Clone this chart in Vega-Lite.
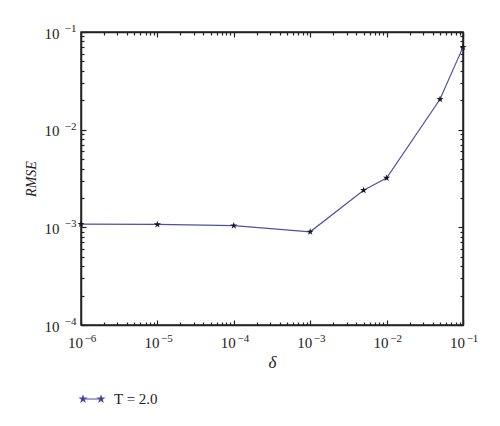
{
  "$schema": "https://vega.github.io/schema/vega-lite/v6.json",
  "width": 382,
  "height": 293,
  "autosize": {"type": "none"},
  "padding": {"left": 81, "top": 32, "right": 37, "bottom": 101},
  "background": "white",
  "data": {
    "values": [
      {"delta": 1e-6, "rmse": 0.00108, "series": "T = 2.0"},
      {"delta": 1e-5, "rmse": 0.00107, "series": "T = 2.0"},
      {"delta": 1e-4, "rmse": 0.00104, "series": "T = 2.0"},
      {"delta": 1e-3, "rmse": 0.00090, "series": "T = 2.0"},
      {"delta": 5e-3, "rmse": 0.0024, "series": "T = 2.0"},
      {"delta": 1e-2, "rmse": 0.0032, "series": "T = 2.0"},
      {"delta": 5e-2, "rmse": 0.0205, "series": "T = 2.0"},
      {"delta": 1e-1, "rmse": 0.070, "series": "T = 2.0"}
    ]
  },
  "layer": [
    {
      "mark": {"type": "line", "strokeWidth": 1.2},
      "encoding": {
        "x": {
          "field": "delta",
          "type": "quantitative",
          "scale": {"type": "log", "domain": [1e-6, 0.1], "nice": false},
          "axis": {
            "orient": "bottom",
            "title": null,
            "labels": false,
            "values": [1e-6, 2e-6, 3e-6, 4e-6, 5e-6, 6e-6, 7e-6, 8e-6, 9e-6, 1e-5, 2e-5, 3e-5, 4e-5, 5e-5, 6e-5, 7e-5, 8e-5, 9e-5, 1e-4, 2e-4, 3e-4, 4e-4, 5e-4, 6e-4, 7e-4, 8e-4, 9e-4, 1e-3, 2e-3, 3e-3, 4e-3, 5e-3, 6e-3, 7e-3, 8e-3, 9e-3, 1e-2, 2e-2, 3e-2, 4e-2, 5e-2, 6e-2, 7e-2, 8e-2, 9e-2, 1e-1],
            "tickSize": {"condition": {"test": "abs(log(datum.value)/LN10 - round(log(datum.value)/LN10)) < 0.01", "value": -5}, "value": -3}
          }
        },
        "y": {
          "field": "rmse",
          "type": "quantitative",
          "scale": {"type": "log", "domain": [1e-4, 0.1], "nice": false},
          "axis": {
            "orient": "left",
            "title": null,
            "labels": false,
            "values": [1e-4, 2e-4, 3e-4, 4e-4, 5e-4, 6e-4, 7e-4, 8e-4, 9e-4, 1e-3, 2e-3, 3e-3, 4e-3, 5e-3, 6e-3, 7e-3, 8e-3, 9e-3, 1e-2, 2e-2, 3e-2, 4e-2, 5e-2, 6e-2, 7e-2, 8e-2, 9e-2, 1e-1],
            "tickSize": {"condition": {"test": "abs(log(datum.value)/LN10 - round(log(datum.value)/LN10)) < 0.01", "value": -5}, "value": -3}
          }
        },
        "color": {
          "field": "series",
          "type": "nominal",
          "scale": {"range": ["#4f4fa6"]},
          "legend": {
            "orient": "none",
            "legendX": -2,
            "legendY": 354,
            "title": null,
            "symbolType": "M-0.75,0L0.75,0M-0.75,-0.25L-0.691,-0.081L-0.512,-0.077L-0.655,0.031L-0.603,0.202L-0.75,0.1L-0.897,0.202L-0.845,0.031L-0.988,-0.077L-0.809,-0.081ZM0.75,-0.25L0.809,-0.081L0.988,-0.077L0.845,0.031L0.897,0.202L0.75,0.1L0.603,0.202L0.655,0.031L0.512,-0.077L0.691,-0.081Z",
            "symbolSize": 576,
            "symbolStrokeWidth": 1.2,
            "symbolFillColor": "#1a1a1a",
            "labelFont": "Times New Roman",
            "labelFontSize": 15,
            "labelColor": "#222",
            "labelOffset": 9
          }
        }
      }
    },
    {
      "mark": {
        "type": "point",
        "shape": "M0,-1L0.224,-0.309L0.951,-0.309L0.363,0.118L0.588,0.809L0,0.382L-0.588,0.809L-0.363,0.118L-0.951,-0.309L-0.224,-0.309Z",
        "filled": true,
        "color": "#1a1a1a",
        "opacity": 1,
        "size": 56
      },
      "encoding": {
        "x": {
          "field": "delta",
          "type": "quantitative",
          "axis": {
            "orient": "top",
            "title": null,
            "labels": false,
            "values": [1e-6, 2e-6, 3e-6, 4e-6, 5e-6, 6e-6, 7e-6, 8e-6, 9e-6, 1e-5, 2e-5, 3e-5, 4e-5, 5e-5, 6e-5, 7e-5, 8e-5, 9e-5, 1e-4, 2e-4, 3e-4, 4e-4, 5e-4, 6e-4, 7e-4, 8e-4, 9e-4, 1e-3, 2e-3, 3e-3, 4e-3, 5e-3, 6e-3, 7e-3, 8e-3, 9e-3, 1e-2, 2e-2, 3e-2, 4e-2, 5e-2, 6e-2, 7e-2, 8e-2, 9e-2, 1e-1],
            "tickSize": {"condition": {"test": "abs(log(datum.value)/LN10 - round(log(datum.value)/LN10)) < 0.01", "value": -5}, "value": -3}
          }
        },
        "y": {
          "field": "rmse",
          "type": "quantitative",
          "axis": {
            "orient": "right",
            "title": null,
            "labels": false,
            "values": [1e-4, 2e-4, 3e-4, 4e-4, 5e-4, 6e-4, 7e-4, 8e-4, 9e-4, 1e-3, 2e-3, 3e-3, 4e-3, 5e-3, 6e-3, 7e-3, 8e-3, 9e-3, 1e-2, 2e-2, 3e-2, 4e-2, 5e-2, 6e-2, 7e-2, 8e-2, 9e-2, 1e-1],
            "tickSize": {"condition": {"test": "abs(log(datum.value)/LN10 - round(log(datum.value)/LN10)) < 0.01", "value": -5}, "value": -3}
          }
        }
      }
    },
    {
      "mark": {"type": "point", "opacity": 0},
      "encoding": {
        "x": {
          "field": "delta",
          "type": "quantitative",
          "axis": {
            "orient": "bottom",
            "title": "δ",
            "titleFontStyle": "italic",
            "titleFontWeight": "normal",
            "titleFontSize": 17,
            "titlePadding": 4,
            "ticks": false,
            "domain": false,
            "values": [1e-6, 1e-5, 1e-4, 1e-3, 1e-2, 1e-1],
            "labelExpr": "'10'",
            "labelAlign": "center",
            "labelBaseline": "top",
            "labelOffset": -6,
            "labelPadding": 10,
            "labelFontSize": 15
          }
        },
        "y": {
          "field": "rmse",
          "type": "quantitative",
          "axis": {
            "orient": "left",
            "title": "RMSE",
            "titleFontStyle": "italic",
            "titleFontWeight": "normal",
            "titleFontSize": 14,
            "titlePadding": 6,
            "ticks": false,
            "domain": false,
            "values": [1e-4, 1e-3, 1e-2, 1e-1],
            "labelExpr": "'10'",
            "labelAlign": "right",
            "labelBaseline": "middle",
            "labelOffset": 1,
            "labelPadding": 22,
            "labelFontSize": 15
          }
        }
      }
    },
    {
      "mark": {"type": "point", "opacity": 0},
      "encoding": {
        "x": {
          "field": "delta",
          "type": "quantitative",
          "axis": {
            "orient": "bottom",
            "title": null,
            "ticks": false,
            "domain": false,
            "values": [1e-6, 1e-5, 1e-4, 1e-3, 1e-2, 1e-1],
            "labelExpr": "'−' + round(-log(datum.value)/LN10)",
            "labelAlign": "center",
            "labelBaseline": "top",
            "labelOffset": 9,
            "labelPadding": 7,
            "labelFontSize": 11
          }
        },
        "y": {
          "field": "rmse",
          "type": "quantitative",
          "axis": {
            "orient": "left",
            "title": null,
            "ticks": false,
            "domain": false,
            "values": [1e-4, 1e-3, 1e-2, 1e-1],
            "labelExpr": "'−' + round(-log(datum.value)/LN10)",
            "labelAlign": "right",
            "labelBaseline": "middle",
            "labelOffset": -3.5,
            "labelPadding": 5,
            "labelFontSize": 11
          }
        }
      }
    }
  ],
  "resolve": {"axis": {"x": "independent", "y": "independent"}},
  "config": {
    "font": "Times New Roman",
    "view": {"stroke": "#222", "strokeWidth": 1.5},
    "axis": {
      "grid": false,
      "domainColor": "#222",
      "domainWidth": 1.5,
      "tickColor": "#222",
      "tickWidth": 1.2,
      "labelFont": "Times New Roman",
      "labelColor": "#222",
      "labelOverlap": false,
      "labelFlush": false,
      "labelBound": false,
      "titleFont": "Times New Roman",
      "titleColor": "#222"
    }
  }
}
